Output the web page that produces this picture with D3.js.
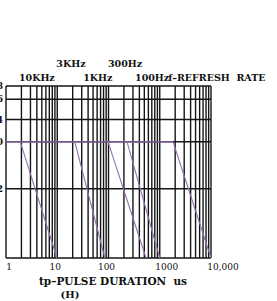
<!DOCTYPE html>
<html>
<head>
<meta charset="utf-8">
<script src="https://cdnjs.cloudflare.com/ajax/libs/d3/7.8.5/d3.min.js"></script>
<style>
  body { margin: 0; background: #fff; }
  text { font-family: "DejaVu Serif", serif; fill: #111; }
</style>
</head>
<body>
<div id="container"></div>
<script>
let w = 277;
let h = 301;
let margin = { top: 86, right: 66, bottom: 43, left: 6 };

// x: pulse duration (us), y: peak current ratio (log)
let xDomain = [1, 10000];
let yDomain = [1, 5.6];
let xTicks = [1, 10, 100, 1000, 10000];
let xTickLabels = ['1', '10', '100', '1000', '10,000'];
let yTicks = [2, 3.2, 4, 4.9, 5.6];
let yTickLabels = ['2', '0', '4', '6', '8'];

// refresh rate curves: flat level, then a falling line down to ratio 1
let flatLevel = 3.2;
let curveNames = ['10KHz', '3KHz', '1KHz', '300Hz', '100Hz'];
let curveStart = [1.9, 22, 98, 230, 1820];   // tp where the curve leaves the flat level
let curveEnd = [9.9, 85, 540, 1000, 10000];  // tp where it reaches the bottom
let labelTp = [4, 18.5, 62, 210, 710];       // where the names sit over the grid
let labelRow = [1, 0, 1, 0, 1];

let lineColor = '#9470b0';
let gridColor = '#151515';

let viz = d3.select('#container')
  .append('svg')
    .attr('width', w)
    .attr('height', h);

let x = d3.scaleLog().domain(xDomain).range([margin.left, w - margin.right]);
let y = d3.scaleLog().domain(yDomain).range([h - margin.bottom, margin.top]);

//minor grid: every 1..9 in each decade
let minor = [];
for (let d = 1; d < 10000; d *= 10) {
  for (let k = 1; k < 10; k++) minor.push(d * k);
}
minor.push(10000);

viz.append('g')
  .selectAll('line')
  .data(minor)
  .enter()
  .append('line')
    .attr('x1', d => x(d))
    .attr('x2', d => x(d))
    .attr('y1', y(yDomain[0]))
    .attr('y2', y(yDomain[1]))
    .attr('stroke', gridColor)
    .attr('stroke-width', 1.4);

viz.append('g')
  .selectAll('line')
  .data(yTicks.concat([yDomain[0]]))
  .enter()
  .append('line')
    .attr('x1', x(xDomain[0]))
    .attr('x2', x(xDomain[1]))
    .attr('y1', d => y(d))
    .attr('y2', d => y(d))
    .attr('stroke', gridColor)
    .attr('stroke-width', 1.5);

//y labels, mostly cut off by the left edge as in the scan
viz.append('g')
  .selectAll('text')
  .data(yTicks)
  .enter()
  .append('text')
    .attr('x', 3)
    .attr('y', d => y(d) + 3)
    .attr('text-anchor', 'end')
    .style('font-size', '9px')
    .style('font-weight', 'bold')
    .text((d, i) => yTickLabels[i]);

//x labels
viz.append('g')
  .selectAll('text')
  .data(xTicks)
  .enter()
  .append('text')
    .attr('x', (d, i) => x(d) + [3, -2, -2, 7, 12][i])
    .attr('y', h - margin.bottom + 12)
    .attr('text-anchor', 'middle')
    .style('font-size', '9px')
    .text((d, i) => xTickLabels[i]);

//purple curves
let line = d3.line().x(d => x(d[0])).y(d => y(d[1]));
viz.append('path')
  .attr('d', line([[xDomain[0], flatLevel], [curveStart[4], flatLevel]]))
  .attr('fill', 'none')
  .attr('stroke', lineColor)
  .attr('stroke-width', 1.4);

viz.append('g')
  .selectAll('path')
  .data(curveStart)
  .enter()
  .append('path')
    .attr('d', (d, i) => line([[d, flatLevel], [curveEnd[i], yDomain[0]]]))
    .attr('fill', 'none')
    .attr('stroke', lineColor)
    .attr('stroke-width', 1.1);

//refresh rate labels
viz.append('g')
  .selectAll('text')
  .data(curveNames)
  .enter()
  .append('text')
    .attr('x', (d, i) => x(labelTp[i]))
    .attr('y', (d, i) => labelRow[i] ? 81 : 67)
    .attr('text-anchor', 'middle')
    .style('font-size', '9.5px')
    .style('font-weight', 'bold')
    .text(d => d);

viz.append('text')
  .attr('x', x(labelTp[4]) + 16)
  .attr('y', 81)
  .style('font-size', '9.5px')
  .style('font-weight', 'bold')
  .style('white-space', 'pre')
  .text('f\u2013REFRESH  RATE');

//axis title
viz.append('text')
  .attr('x', 113)
  .attr('y', h - 16)
  .attr('text-anchor', 'middle')
  .style('font-size', '10.5px')
  .style('font-weight', 'bold')
  .style('white-space', 'pre')
  .text('tp\u2013PULSE DURATION  us');

viz.append('text')
  .attr('x', 70)
  .attr('y', h - 3)
  .attr('text-anchor', 'middle')
  .style('font-size', '10px')
  .style('font-weight', 'bold')
  .text('(H)');
</script>
</body>
</html>
